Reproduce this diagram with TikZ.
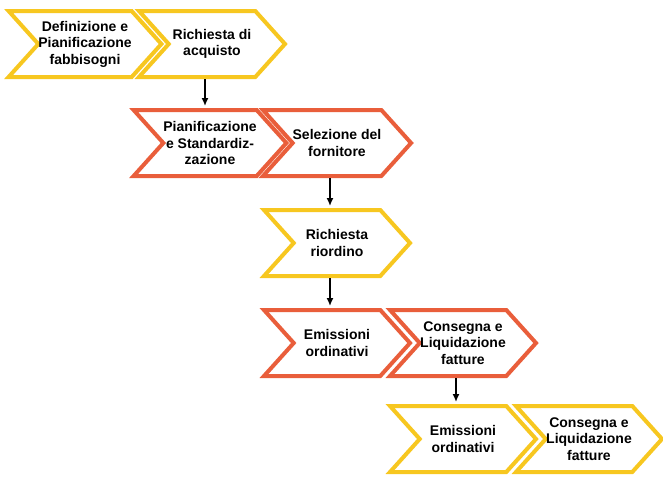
\documentclass[tikz,border=0pt]{standalone}
\usepackage{fontspec}
\setmainfont{Liberation Sans}
\usetikzlibrary{positioning, shapes.symbols, arrows.meta}
\definecolor{stageyellow}{RGB}{247,199,32}
\definecolor{stageorange}{RGB}{233,94,59}

\begin{document}
\begin{tikzpicture}[x=1pt, y=-1pt,
  every node/.style={font=\fontsize{14}{16.5}\selectfont\bfseries},
  stage/.style={draw, line width=4pt, fill=white, shape=signal, signal from=west, signal to=east,
    signal pointer angle=96, minimum width=146pt, minimum height=66pt, inner sep=0pt, align=center}]
  \useasboundingbox (0,0) rectangle (663,477);
  % first row
  \node[stage, draw=stageyellow] (define) at (85,44) {Definizione e\\Pianificazione\\fabbisogni};
  \node[stage, draw=stageyellow] (request) at (212,44) {Richiesta di\\acquisto};
  % second row
  \node[stage, draw=stageorange] (planning) at (210,143) {Pianificazione\\e Standardiz-\\zazione};
  \node[stage, draw=stageorange] (supplier) at (337,143) {Selezione del\\fornitore};
  % third row
  \node[stage, draw=stageyellow] (reorder) at (337,243) {Richiesta\\riordino};
  % fourth row
  \node[stage, draw=stageorange] (orders) at (337,343) {Emissioni\\ordinativi};
  \node[stage, draw=stageorange] (delivery) at (463,343) {Consegna e\\Liquidazione\\fatture};
  % fifth row
  \node[stage, draw=stageyellow] (orders2) at (463,439) {Emissioni\\ordinativi};
  \node[stage, draw=stageyellow] (delivery2) at (589,439) {Consegna e\\Liquidazione\\fatture};

  \draw[-{Latex[length=8pt,width=7pt]}, line width=1.5pt, shorten >=2pt] ([xshift=-7pt]request.south) -- ([xshift=-7pt]request.south |- planning.north);
  \draw[-{Latex[length=8pt,width=7pt]}, line width=1.5pt, shorten >=2pt] ([xshift=-7pt]supplier.south) -- ([xshift=-7pt]supplier.south |- reorder.north);
  \draw[-{Latex[length=8pt,width=7pt]}, line width=1.5pt, shorten >=2pt] ([xshift=-7pt]reorder.south) -- ([xshift=-7pt]reorder.south |- orders.north);
  \draw[-{Latex[length=8pt,width=7pt]}, line width=1.5pt, shorten >=2pt] ([xshift=-7pt]delivery.south) -- ([xshift=-7pt]delivery.south |- orders2.north);
\end{tikzpicture}
\end{document}
